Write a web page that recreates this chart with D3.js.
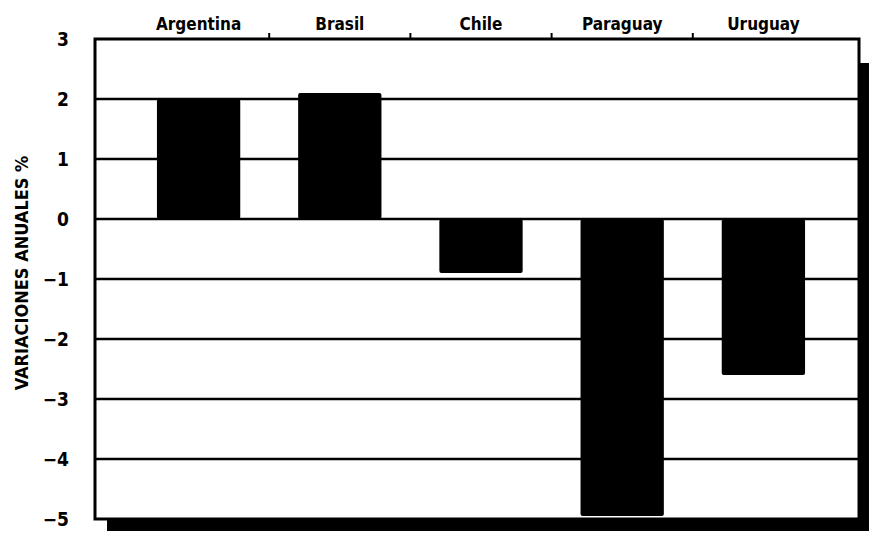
<!DOCTYPE html>
<html>
<head>
<meta charset="utf-8">
<script src="https://cdn.jsdelivr.net/npm/d3@7"></script>
<style>
  body { margin: 0; background: #fff; }
  svg text { font-family: "DejaVu Sans Condensed", "Liberation Sans Narrow", sans-serif; font-stretch: condensed; font-weight: bold; fill: #000; }
</style>
</head>
<body>
<div id="chart"></div>
<script>
// Data
const categories = ["Argentina", "Brasil", "Chile", "Paraguay", "Uruguay"];
const values = [2.0, 2.1, -0.9, -4.95, -2.6];
const yTicks = [3, 2, 1, 0, -1, -2, -3, -4, -5];
const yTitle = "VARIACIONES ANUALES %";

const width = 869, height = 533;
// frame edges
const frame = { left: 95, right: 859, top: 39, bottom: 519 };

const svg = d3.select("#chart").append("svg")
	.attr("width", width).attr("height", height);

const scaleX = d3.scaleBand(categories, [128, 834]);
const scaleY = d3.scaleLinear([-5, 3], [frame.bottom, frame.top]);

// drop shadow (right and bottom)
svg.append("rect")
	.attr("x", frame.right).attr("y", 63)
	.attr("width", 10).attr("height", 531 - 63);
svg.append("rect")
	.attr("x", 107).attr("y", frame.bottom)
	.attr("width", frame.right + 10 - 107).attr("height", 12);

// white plot area
svg.append("rect")
	.attr("x", frame.left).attr("y", frame.top)
	.attr("width", frame.right - frame.left).attr("height", frame.bottom - frame.top)
	.attr("fill", "#fff");

// gridlines
svg.append("g").selectAll("line")
	.data(yTicks.slice(1, -1))
	.join("line")
	.attr("x1", frame.left).attr("x2", frame.right)
	.attr("y1", (d) => scaleY(d)).attr("y2", (d) => scaleY(d))
	.attr("stroke", "#000").attr("stroke-width", 2.5);

// bars
const barW = scaleX.bandwidth() * 0.59;
svg.append("g").selectAll("rect")
	.data(categories.map((c, i) => [c, values[i]]))
	.join("rect")
	.attr("x", (d) => scaleX(d[0]) + (scaleX.bandwidth() - barW) / 2)
	.attr("y", (d) => scaleY(Math.max(0, d[1])))
	.attr("width", barW)
	.attr("height", (d) => Math.abs(scaleY(d[1]) - scaleY(0)))
	.attr("rx", 2)
	.attr("fill", "#000");

// frame
svg.append("rect")
	.attr("x", frame.left).attr("y", frame.top)
	.attr("width", frame.right - frame.left).attr("height", frame.bottom - frame.top)
	.attr("fill", "none").attr("stroke", "#000").attr("stroke-width", 3);

// top axis: category labels
const axisTop = svg.append("g")
	.attr("transform", `translate(0, ${frame.top})`)
	.call(d3.axisTop(scaleX).tickSize(0).tickPadding(9));
axisTop.select(".domain").remove();
axisTop.selectAll("text").style("font-size", "17px");

// small separator ticks above the frame
svg.append("g").selectAll("line")
	.data(categories.slice(1))
	.join("line")
	.attr("x1", (d) => scaleX(d)).attr("x2", (d) => scaleX(d))
	.attr("y1", frame.top - 6).attr("y2", frame.top)
	.attr("stroke", "#000").attr("stroke-width", 2);

// left axis
const axisLeft = svg.append("g")
	.attr("transform", `translate(${frame.left}, 0)`)
	.call(d3.axisLeft(scaleY).tickValues(yTicks).tickSize(0).tickPadding(26).tickFormat(d3.format("d")));
axisLeft.select(".domain").remove();
axisLeft.selectAll("text").style("font-size", "19px");

// axis title
svg.append("text")
	.attr("transform", `translate(28, 273) rotate(-90)`)
	.attr("text-anchor", "middle")
	.style("font-size", "18px")
	.text(yTitle);
</script>
</body>
</html>
